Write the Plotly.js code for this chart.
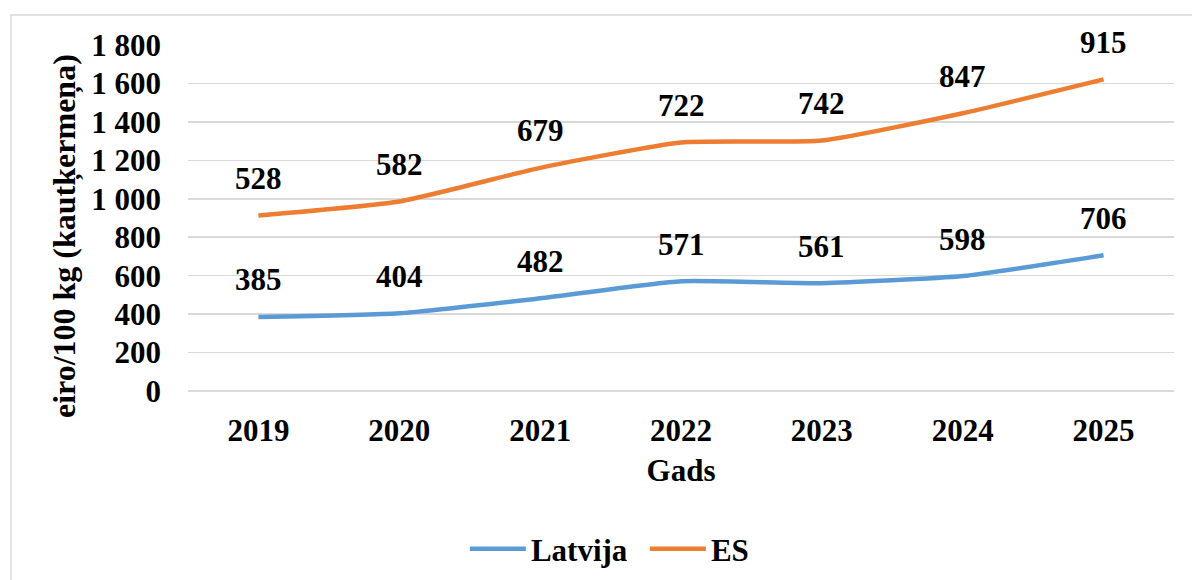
<!DOCTYPE html>
<html>
<head>
<meta charset="utf-8">
<script src="https://cdn.plot.ly/plotly-3.0.1.min.js"></script>
<style>html,body{margin:0;padding:0;background:#fff;}#chart{width:1192px;height:580px;}</style>
</head>
<body>
<div id="chart"></div>
<script>
const years = ['2019', '2020', '2021', '2022', '2023', '2024', '2025'];
const latvija = [385, 404, 482, 571, 561, 598, 706];
const es = [528, 582, 679, 722, 742, 847, 915];
const seriesNames = ['Latvija', 'ES'];
const yTitle = 'eiro/100 kg (kautķermeņa)';
const xTitle = 'Gads';

// Stacked line (as in the original): ES plotted on top of Latvija
const esStacked = es.map((v, i) => v + latvija[i]);

const FONT = 'Liberation Serif, Times New Roman, serif';
const FS = 31;
const colors = ['#5B9BD5', '#ED7D31'];

const traces = [
  {x: years, y: latvija, name: seriesNames[0], type: 'scatter', mode: 'lines',
   line: {color: colors[0], width: 4.5, shape: 'spline', smoothing: 0.5}, hoverinfo: 'skip'},
  {x: years, y: esStacked, name: seriesNames[1], type: 'scatter', mode: 'lines',
   line: {color: colors[1], width: 4.5, shape: 'spline', smoothing: 0.5}, hoverinfo: 'skip'}
];

const annotations = [];
[[latvija, latvija], [esStacked, es]].forEach(([ys, labels]) => {
  ys.forEach((y, i) => {
    annotations.push({x: i, y: y, xref: 'x', yref: 'y', text: String(labels[i]),
      showarrow: false, yshift: 37, yanchor: 'middle', xanchor: 'center',
      font: {family: FONT, size: FS, color: '#000', weight: 'bold'}});
  });
});
// y-axis title (placed as in the original, slightly below the plot centre)
annotations.push({xref: 'paper', yref: 'paper', x: -0.1247, y: 0.448, text: yTitle, textangle: -90,
  showarrow: false, xanchor: 'center', yanchor: 'middle',
  font: {family: FONT, size: 32, color: '#000', weight: 'bold'}});

const layout = {
  width: 1192, height: 580,
  margin: {l: 188, r: 18, t: 45, b: 189},
  paper_bgcolor: '#fff', plot_bgcolor: '#fff',
  font: {family: FONT, size: FS, color: '#000', weight: 'bold'},
  separators: '. ',
  showlegend: true,
  legend: {orientation: 'h', xref: 'container', yref: 'container', x: 0.39, xanchor: 'left', y: 0.0534, yanchor: 'middle',
    font: {family: FONT, size: FS, color: '#000', weight: 'bold'}, itemwidth: 56, entrywidth: 109, traceorder: 'normal'},
  xaxis: {type: 'category', range: [-0.5, 6.5], showgrid: false, zeroline: false, showline: false, automargin: false,
    ticks: '', ticklabelstandoff: 18, tickfont: {family: FONT, size: FS, weight: 'bold'},
    title: {text: xTitle, standoff: 12, font: {family: FONT, size: FS, weight: 'bold'}}, fixedrange: true},
  yaxis: {range: [0, 1800], dtick: 200, tick0: 0, separatethousands: true, tickformat: ',d', automargin: false,
    showgrid: true, gridcolor: '#D9D9D9', gridwidth: 1.5, zeroline: true, zerolinecolor: '#D9D9D9', zerolinewidth: 1.5,
    showline: false, ticks: '', ticklabelstandoff: 26, tickfont: {family: FONT, size: FS, weight: 'bold'},
    fixedrange: true},
  annotations: annotations,
  shapes: [{type: 'rect', xref: 'paper', yref: 'paper', x0: -0.1795, x1: 1.03, y0: -0.62, y1: 1.0867,
    line: {color: '#D9D9D9', width: 1.5}, fillcolor: 'rgba(0,0,0,0)', layer: 'below'}]
};

Plotly.newPlot('chart', traces, layout, {displayModeBar: false, staticPlot: true});
</script>
</body>
</html>
